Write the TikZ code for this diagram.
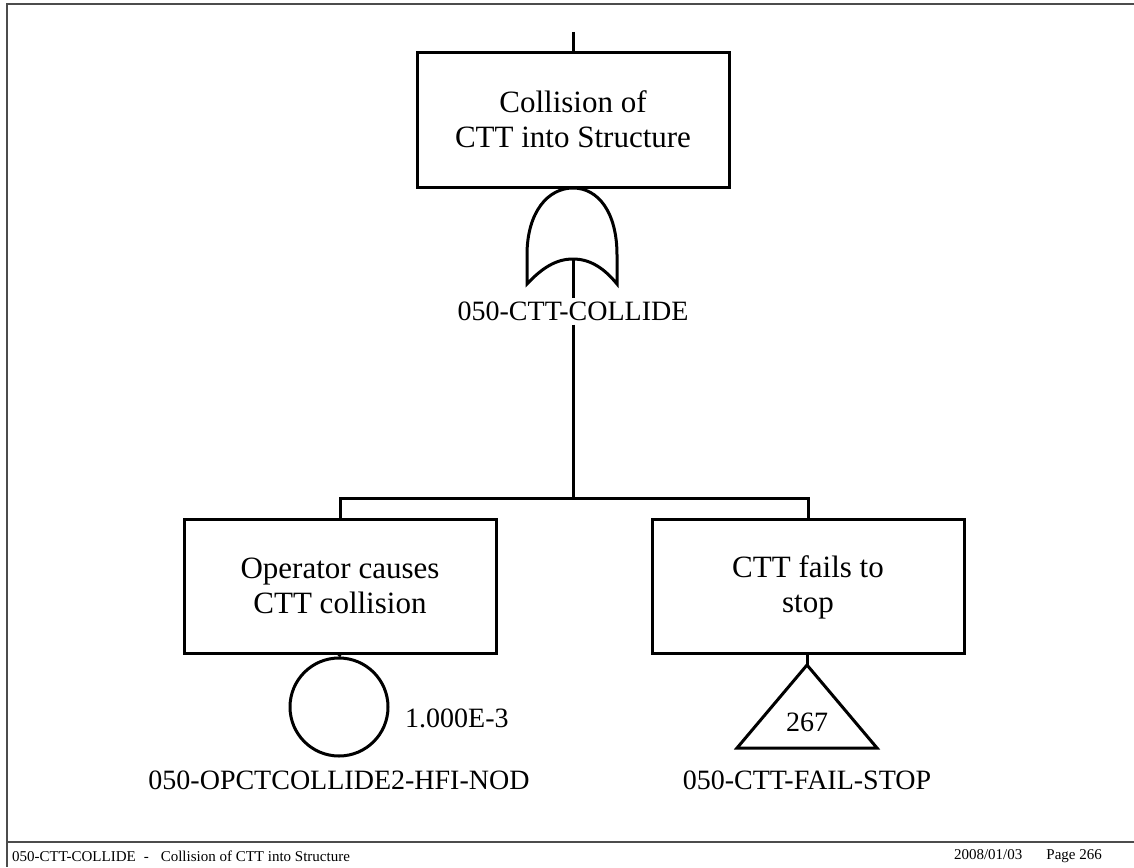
\documentclass[tikz,border=0pt]{standalone}
\usepackage{fontspec}
\setmainfont{Liberation Serif}
\newcommand{\mystrut}{\rule[-5pt]{0pt}{30pt}}
\begin{document}
\begin{tikzpicture}[x=1pt,y=-1pt,
  ln/.style={line width=3pt},
  evbox/.style={draw,line width=3pt,minimum width=312pt,minimum height=134pt,align=center,font=\fontsize{31}{35}\selectfont,inner sep=0pt},
  lbl/.style={font=\fontsize{28}{30}\selectfont,inner sep=0pt},
  frame/.style={draw=black!70,line width=1.5pt},
  foot/.style={font=\fontsize{15}{17}\selectfont,inner sep=0pt}]
\useasboundingbox (0,0) rectangle (1134,867);
% page frame
\draw[frame] (1134,4) -- (7,4) -- (7,867);
\draw[frame] (7,842) -- (1134,842);
\node[foot,anchor=west] (f1) at (12,856) {050-CTT-COLLIDE\hspace{8pt}-\hspace{12pt}Collision of CTT into Structure};
\node[foot,anchor=east] (f2) at (1102,856) {2008/01/03\hspace{24pt}Page 266};
% top event
\coordinate (tin) at (573,32);
\node[evbox] (top) at (573,120) {\mystrut Collision of\\\mystrut CTT into Structure};
\draw[ln] (tin) -- (top.north);
% OR gate
\coordinate (gapex) at (573,188);
\coordinate (gout) at (573,259);
\draw[ln] (527,284) -- (527,255) .. controls (527,212) and (548,188) .. (gapex)
  .. controls (598,188) and (617,212) .. (617,255) -- (617,284)
  .. controls (604,268) and (590,259) .. (gout)
  .. controls (556,259) and (542,268) .. (527,284) -- cycle;
\node[lbl] (gname) at (573,311) {050-CTT-COLLIDE};
\draw[ln] (gout) -- ([yshift=3pt]gname.north);
\coordinate (bus) at (573,498);
\draw[ln] ([yshift=-4pt]gname.south) -- (bus);
% children
\node[evbox] (left) at (340,586) {\mystrut Operator causes\\\mystrut CTT collision};
\node[evbox] (right) at (808,586) {\mystrut CTT fails to\\\mystrut stop};
\draw[ln] (left.north) |- (bus) -| (right.north);
% basic event
\node[draw,circle,line width=3pt,minimum size=98pt,inner sep=0pt] (be) at (339,707) {};
\draw[ln] (left.south) -- (be.north);
\node[lbl,anchor=west] (prob) at (405,718) {1.000E-3};
\node[lbl] (bename) at (339,780) {050-OPCTCOLLIDE2-HFI-NOD};
% transfer triangle
\coordinate (tapex) at (807,665);
\draw[ln,line join=miter] (tapex) -- (877,748) -- (737,748) -- cycle;
\draw[ln] (right.south -| tapex) -- (tapex);
\node[lbl] (tnum) at (807,722) {267};
\node[lbl] (tname) at (807,780) {050-CTT-FAIL-STOP};
\end{tikzpicture}
\end{document}
